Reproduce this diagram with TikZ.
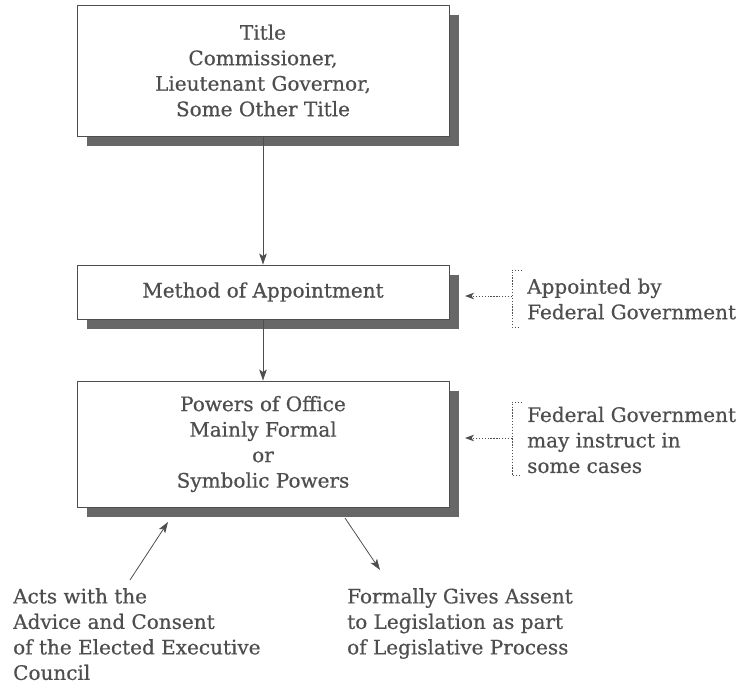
\documentclass[tikz,border=0pt]{standalone}
\usepackage{fontspec}
\setmainfont{DejaVu Serif}[FakeBold=0.5]
\usetikzlibrary{arrows.meta,shadows}
\definecolor{ink}{HTML}{4E4E4E}
\definecolor{shade}{HTML}{676767}
\begin{document}
\begin{tikzpicture}[x=1pt,y=-1pt,
  txt/.style={text=ink, font=\fontsize{20}{25.5}\selectfont, inner sep=0pt},
  box/.style={txt, draw=ink, line width=0.9pt, fill=white, align=center,
    minimum width=372pt,
    drop shadow={shadow xshift=10pt, shadow yshift=-10pt, fill=shade, opacity=1}},
  arr/.style={draw=ink, line width=0.8pt, -{Stealth[length=11pt,width=7.5pt,inset=2.5pt]}},
  dotline/.style={draw=ink, line width=0.9pt, dash pattern=on 1.3pt off 1.6pt},
  dotarr/.style={dotline, -{Stealth[length=9pt,width=6.5pt,inset=2.5pt]}}
]
\useasboundingbox (0,0) rectangle (744,689);

% main chain of boxes
\node[box, minimum height=131pt] (title) at (263,70.5)
  {Title\\Commissioner,\\Lieutenant Governor,\\Some Other Title};
\node[box, minimum height=54pt] (method) at (263,292) {Method of Appointment};
\node[box, minimum height=126pt] (powers) at (263,444)
  {Powers of Office\\Mainly Formal\\or\\Symbolic Powers};

\draw[arr] (title.south) -- (method.north);
\draw[arr] (method.south) -- (powers.north);

% side notes with dotted brackets
\node[txt, anchor=west, align=left] (appointed) at (527,299)
  {Appointed by\\Federal Government};
\coordinate (brA) at (512,296);
\draw[dotline] (522,270) -- (512,270) -- (512,327) -- (520,327);
\draw[dotarr] (brA) -- (465,296);

\node[txt, anchor=west, align=left] (instruct) at (527,440)
  {Federal Government\\may instruct in\\some cases};
\coordinate (brB) at (512,438);
\draw[dotline] (522,402) -- (512,402) -- (512,475) -- (520,475);
\draw[dotarr] (brB) -- (465,438);

% labels below
\node[txt, anchor=north west, align=left] (acts) at (13,588)
  {Acts with the\\Advice and Consent\\of the Elected Executive\\Council};
\node[txt, anchor=north west, align=left] (assent) at (347,588)
  {Formally Gives Assent\\to Legislation as part\\of Legislative Process};

\coordinate (actsTail) at (130,580);
\coordinate (actsTip) at (168,522);
\draw[arr] (actsTail) -- (actsTip);

\coordinate (assentFrom) at (345,518);
\coordinate (assentTip) at (380,570);
\draw[arr] (assentFrom) -- (assentTip);
\end{tikzpicture}
\end{document}
